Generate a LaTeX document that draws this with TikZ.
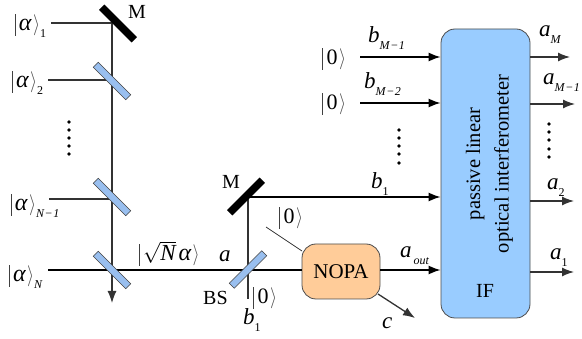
\documentclass[tikz,border=0pt]{standalone}
\usepackage{fontspec}
\usepackage{graphicx}
\setmainfont{Liberation Serif}
\usetikzlibrary{arrows.meta,positioning}
\newcommand{\bra}{\textcolor{black!75}{\rule[-5pt]{.8pt}{22pt}}}
\newcommand{\kcl}{\kern1.5pt\textcolor{black!70}{\raisebox{0pt}[0pt][0pt]{\scalebox{1.5}[1.75]{\fontsize{13}{13}\selectfont$\rangle$}}}}
\newcommand{\ket}[1]{\bra\kern3.5pt{\fontsize{22}{22}\selectfont #1}\kcl}
\newcommand{\aket}[1]{\bra\kern3pt{\fontsize{24}{24}\selectfont\itshape α}\kcl\kern0pt\raisebox{-6.5pt}{\fontsize{12}{12}\selectfont #1}}
\newcommand{\sym}[2]{{\fontsize{23}{23}\selectfont\itshape #1}\raisebox{-7pt}{\fontsize{12}{12}\selectfont #2}}
\newcommand{\minus}{\kern.6pt−\kern.6pt}
\tikzset{
  lbl/.style={inner sep=0pt,anchor=base west,font=\fontsize{20}{20}\selectfont},
  beam/.style={draw=black!80,line width=1.2pt},
  thick beam/.style={draw=black,line width=1.6pt},
  tip/.style={-{Latex[length=12pt,width=9pt]}},
  mirror/.style={draw=none,fill=black,rectangle,minimum width=46pt,minimum height=7.5pt,inner sep=0pt},
  splitter/.style={draw=black!75,line width=.6pt,rectangle,minimum width=46pt,minimum height=7pt,inner sep=0pt},
  dot/.style={fill=black,circle,minimum size=3.6pt,inner sep=0pt},
  box/.style={draw=black!70,line width=.8pt,rounded corners=14pt,inner sep=0pt}
}
\definecolor{if}{HTML}{99CCFF}
\definecolor{nopa}{HTML}{FFCC99}
\definecolor{bsc}{HTML}{99BFEF}
\begin{document}
\begin{tikzpicture}[x=1pt,y=-1pt]
\useasboundingbox (0,0) rectangle (582,339);
% coordinates
\coordinate (s1) at (51,23); \coordinate (j1) at (112,23);
\coordinate (s2) at (48,80); \coordinate (j2) at (112,80);
\coordinate (s3) at (49,199); \coordinate (j3) at (112,199);
\coordinate (s4) at (48,270); \coordinate (j4) at (112,270);
\coordinate (e4) at (112,303);
\coordinate (m2) at (248,197); \coordinate (bs) at (248,270); \coordinate (e5) at (248,299);
\coordinate (in1) at (360,57); \coordinate (in2) at (360,103);
\coordinate (vac) at (266,227); \coordinate (vacend) at (302,251); \coordinate (c) at (415,318);
\coordinate (cs) at (378,294);
\coordinate (o1) at (570,57); \coordinate (o2) at (575,104); \coordinate (o3) at (574,201); \coordinate (o4) at (574,272);
% boxes
\node[box,fill=if,minimum width=89pt,minimum height=289pt] (if) at (485.5,173.5) {};
\node[box,fill=nopa,minimum width=78pt,minimum height=55pt,font=\fontsize{21}{21}\selectfont] (nopa) at (341,271.5) {NOPA};
% beams
\draw[beam] (s1) -- (j1);
\draw[beam] (s2) -- (j2);
\draw[beam] (s3) -- (j3);
\draw[beam,tip] (j1) -- (e4);
\draw[beam] (m2) -- (e5);
\draw[beam,line width=.8pt] (vac) -- (vacend);
\draw[thick beam] (s4) -- (nopa.west |- s4);
\draw[thick beam,tip] (m2) -- (if.west |- m2);
\draw[thick beam,tip] (nopa.east |- 0,270) -- (if.west |- 0,270);
\draw[thick beam,tip] (in1) -- (if.west |- in1);
\draw[thick beam,tip] (in2) -- (if.west |- in2);
\draw[beam,line width=1.3pt,tip] (cs) -- (c);
\draw[beam,line width=1.3pt,tip] (if.east |- o1) -- (o1);
\draw[beam,line width=1.3pt,tip] (if.east |- o2) -- (o2);
\draw[beam,line width=1.3pt,tip] (if.east |- o3) -- (o3);
\draw[beam,line width=1.3pt,tip] (if.east |- o4) -- (o4);
% optics
\node[mirror,rotate=-45] (M1) at (118,23.5) {};
\node[splitter,fill=bsc,rotate=-45] (B2) at (112,81) {};
\node[splitter,fill=bsc,rotate=-45] (B3) at (112,197) {};
\node[splitter,fill=bsc,rotate=-45] (B4) at (112,270) {};
\node[mirror,rotate=45] (M2) at (246,196.5) {};
\node[splitter,fill=bsc,rotate=45] (B5) at (248,269.5) {};
% dots
\foreach \n/\y in {a/122,b/130,c/138,d/146,e/154} \node[dot] (dl\n) at (69,\y) {};
\foreach \n/\y in {a/130,b/138,c/146,d/154,e/163} \node[dot] (dm\n) at (399,\y) {};
\foreach \n/\y in {a/124,b/132,c/140,d/149,e/157} \node[dot] (dr\n) at (549,\y) {};
% labels
\node[lbl] (l1) at (15,31) {\aket{1}};
\node[lbl] (l2) at (12,88) {\aket{2}};
\node[lbl] (l3) at (11,211) {\aket{\itshape N\minus{}1}};
\node[lbl] (l4) at (9,282) {\aket{\itshape N}};
\node[lbl] at (128,19) {M};
\node[lbl] at (222,189) {M};
\node[lbl] at (203,305) {BS};
\node[lbl] at (253,304) {\ket{0}};
\node[lbl] at (279,224) {\ket{0}};
\node[lbl] at (322,65) {\ket{0}};
\node[lbl] at (322,110) {\ket{0}};
\node[lbl] at (139,261) {\bra\kern3pt$\sqrt{\hbox{\fontsize{23}{23}\selectfont\itshape N}}$\kern3pt{\fontsize{24}{24}\selectfont\itshape α}\kcl};
\node[lbl,font=\fontsize{23}{23}\selectfont] at (219,262) {\itshape a};
\node[lbl] at (243,325) {\sym{b}{1}};
\node[lbl] at (371,189) {\sym{b}{1}};
\node[lbl] at (368,43) {\sym{b}{\itshape M\minus{}1}};
\node[lbl] at (364,89) {\sym{b}{\itshape M\minus{}2}};
\node[lbl] at (400,258) {\sym{a}{\itshape \kern2pt out}};
\node[lbl,font=\fontsize{23}{23}\selectfont] at (382,329) {\itshape c};
\node[lbl] at (539,37) {\sym{a}{\itshape M}};
\node[lbl] at (543,85) {\sym{a}{\itshape M\minus{}1}};
\node[lbl] at (547,190) {\sym{a}{2}};
\node[lbl] at (550,260) {\sym{a}{1}};
\node[font=\fontsize{20.5}{20.5}\selectfont,rotate=90,align=center,inner sep=0pt] (t) at (489.5,164) {passive linear\\[8pt]optical interferometer};
\node[font=\fontsize{20}{20}\selectfont,inner sep=0pt] (ifl) at (485,291) {IF};
\end{tikzpicture}
\end{document}
